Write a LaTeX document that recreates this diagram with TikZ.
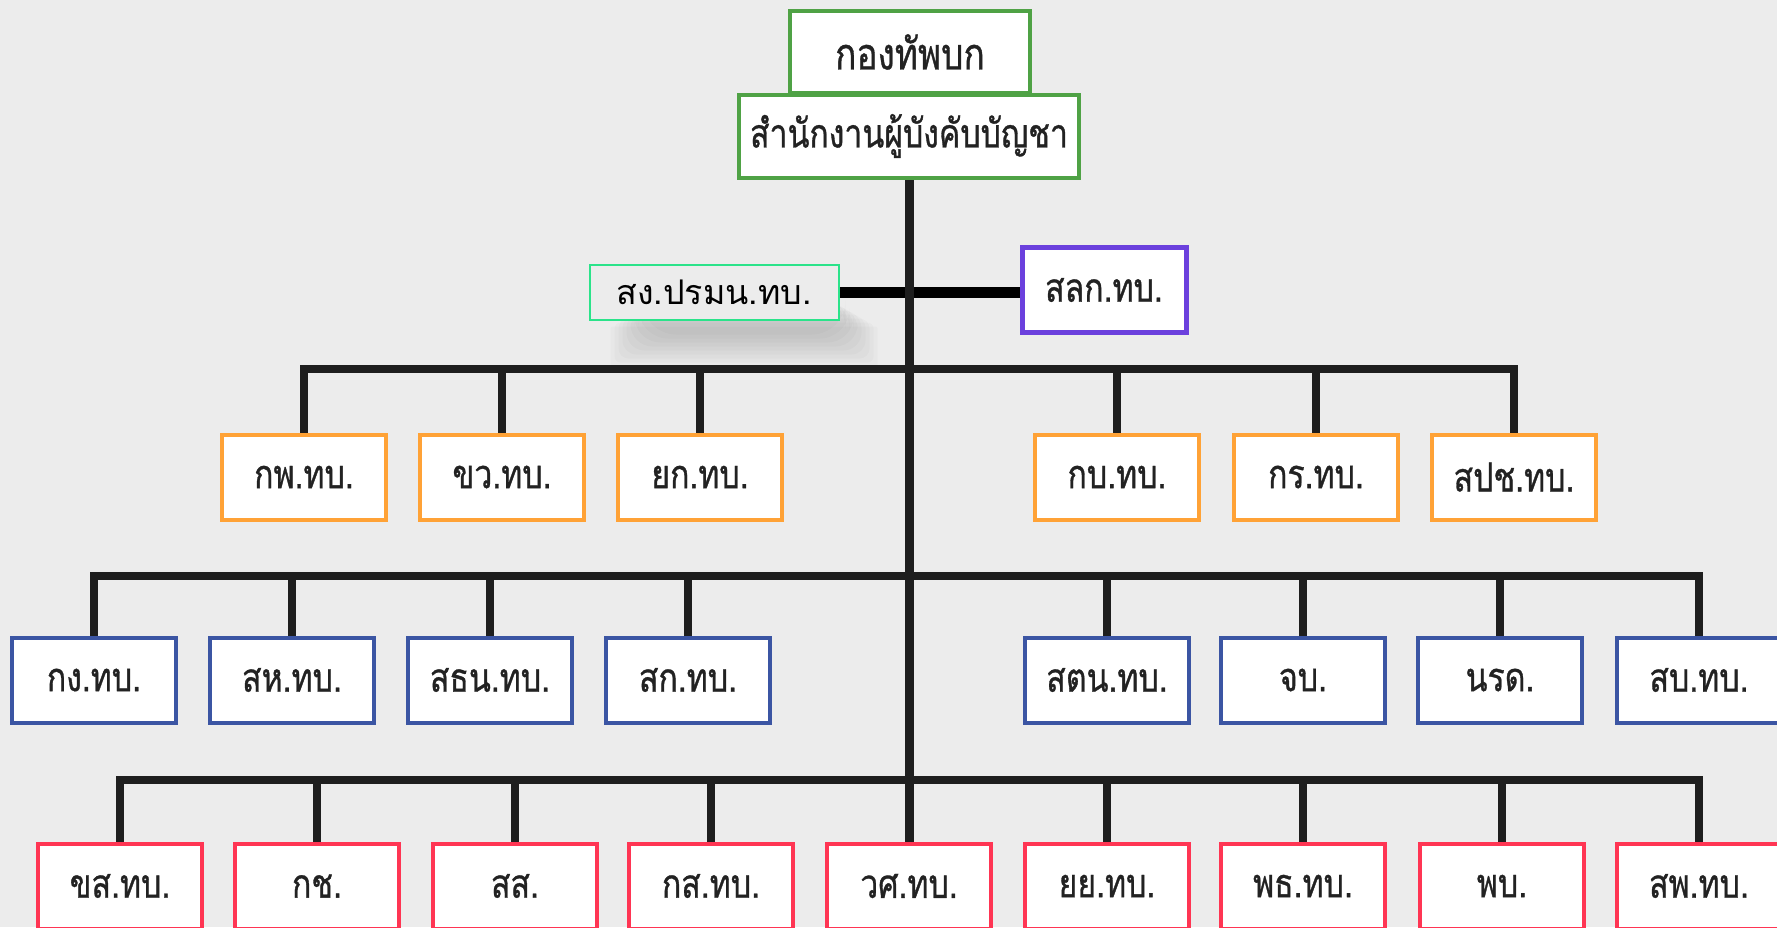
\documentclass[tikz,border=0pt]{standalone}
\usepackage{fontspec}
\newfontfamily\thaifont[Script=Thai,FakeStretch=0.8,FakeBold=0.8]{Loma}
\newfontfamily\thaiwide[Script=Thai]{Loma}
\usetikzlibrary{positioning}
\usetikzlibrary{backgrounds}
\definecolor{bgcol}{HTML}{ECECEC}
\definecolor{txtcol}{HTML}{222222}
\definecolor{linecol}{HTML}{1E1E1E}
\definecolor{hqgreen}{HTML}{4FA245}
\definecolor{mintgreen}{HTML}{2BE38A}
\definecolor{purplecol}{HTML}{6B40DD}
\definecolor{orangecol}{HTML}{FFA236}
\definecolor{bluecol}{HTML}{3B55A3}
\definecolor{redcol}{HTML}{FF3553}
\tikzset{
	unitbox/.style={draw, fill=white, line width=4pt, minimum width=164pt,
		minimum height=85pt, inner sep=0pt, text=txtcol,
		font=\thaifont\fontsize{40}{40}\selectfont},
	hqbox/.style={unitbox, draw=hqgreen},
	trunk/.style={draw=linecol, line width=9pt},
	bus/.style={draw=linecol, line width=8pt}
}

\begin{document}
\begin{tikzpicture}[x=1pt, y=-1pt]
	\useasboundingbox (0,0) rectangle (1777,927);
	% headquarters
	\node[hqbox, minimum width=240pt, minimum height=82pt,
		font=\thaifont\fontsize{44}{44}\selectfont] (rta) at (910,52) {กองทัพบก};
	\node[hqbox, minimum width=340pt, minimum height=83pt] (hq) at (909,136) {สำนักงานผู้บังคับบัญชา};
	\node[draw=mintgreen, fill=bgcol, line width=2pt, minimum width=249pt, minimum height=55pt,
		font=\thaiwide\fontsize{34}{34}\selectfont, text=black]
		(sgp) at (714,292) {สง.ปรมน.ทบ.};
	\node[unitbox, draw=purplecol, line width=5pt] (slk) at (1104,290) {สลก.ทบ.};
	% first row
	\begin{scope}[every node/.style={unitbox, draw=orangecol}]
		\node (a1) at (304,477) {กพ.ทบ.};
		\node (a2) at (502,477) {ขว.ทบ.};
		\node (a3) at (700,477) {ยก.ทบ.};
		\node (a4) at (1117,477) {กบ.ทบ.};
		\node (a5) at (1316,477) {กร.ทบ.};
		\node (a6) at (1514,477) {สปช.ทบ.};
	\end{scope}
	% second row
	\begin{scope}[every node/.style={unitbox, draw=bluecol}]
		\node (b1) at (94,680) {กง.ทบ.};
		\node (b2) at (292,680) {สห.ทบ.};
		\node (b3) at (490,680) {สธน.ทบ.};
		\node (b4) at (688,680) {สก.ทบ.};
		\node (b5) at (1107,680) {สตน.ทบ.};
		\node (b6) at (1303,680) {จบ.};
		\node (b7) at (1500,680) {นรด.};
		\node (b8) at (1699,680) {สบ.ทบ.};
	\end{scope}
	% third row
	\begin{scope}[every node/.style={unitbox, draw=redcol}]
		\node (c1) at (120,886) {ขส.ทบ.};
		\node (c2) at (317,886) {กช.};
		\node (c3) at (515,886) {สส.};
		\node (c4) at (711,886) {กส.ทบ.};
		\node (c5) at (909,886) {วศ.ทบ.};
		\node (c6) at (1107,886) {ยย.ทบ.};
		\node (c7) at (1303,886) {พธ.ทบ.};
		\node (c8) at (1502,886) {พบ.};
		\node (c9) at (1699,886) {สพ.ทบ.};
	\end{scope}
	\coordinate (bus1) at (908,369);
	\coordinate (bus2) at (908,576);
	\coordinate (bus3) at (908,780);
	\begin{scope}[on background layer]
		\fill[bgcol] (0,0) rectangle (1777,927);
		% soft shadow under the side box
		\foreach \r in {2,6,...,34}
			\fill[black, opacity=0.018, rounded corners=\r pt]
				([shift={(20+\r,8-\r)}]sgp.south west) rectangle ([shift={(40-\r,48+\r-2*\r)}]sgp.south east);
		\draw[black, line width=11pt] (sgp.east) -- (sgp.east -| slk.west);
		\draw[trunk] (hq.south) -- (c5.north);
		\draw[bus] (a1.north) |- (bus1) -| (a6.north);
		\draw[bus] (a2.north) -- (a2.north |- bus1);
		\draw[bus] (a3.north) -- (a3.north |- bus1);
		\draw[bus] (a4.north) -- (a4.north |- bus1);
		\draw[bus] (a5.north) -- (a5.north |- bus1);
		\draw[bus] (b1.north) |- (bus2) -| (b8.north);
		\draw[bus] (b2.north) -- (b2.north |- bus2);
		\draw[bus] (b3.north) -- (b3.north |- bus2);
		\draw[bus] (b4.north) -- (b4.north |- bus2);
		\draw[bus] (b5.north) -- (b5.north |- bus2);
		\draw[bus] (b6.north) -- (b6.north |- bus2);
		\draw[bus] (b7.north) -- (b7.north |- bus2);
		\draw[bus] (c1.north) |- (bus3) -| (c9.north);
		\draw[bus] (c2.north) -- (c2.north |- bus3);
		\draw[bus] (c3.north) -- (c3.north |- bus3);
		\draw[bus] (c4.north) -- (c4.north |- bus3);
		\draw[bus] (c6.north) -- (c6.north |- bus3);
		\draw[bus] (c7.north) -- (c7.north |- bus3);
		\draw[bus] (c8.north) -- (c8.north |- bus3);
	\end{scope}
\end{tikzpicture}
\end{document}
